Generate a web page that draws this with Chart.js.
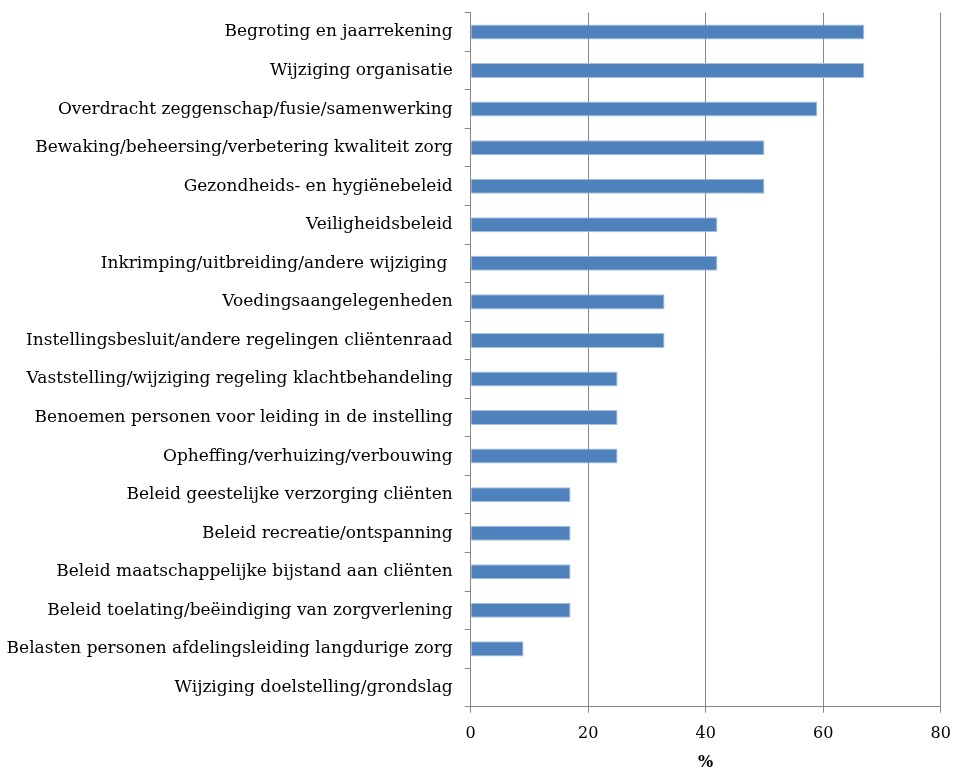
<!DOCTYPE html>
<html>
<head>
<meta charset="utf-8">
<script src="https://cdn.jsdelivr.net/npm/chart.js@4"></script>
<style>
  html, body { margin: 0; padding: 0; background: #fff; }
  #wrap { width: 953px; height: 769px; position: relative; }
</style>
</head>
<body>
<div id="wrap"><canvas id="chart"></canvas></div>
<script>
const categories = [
  'Begroting en jaarrekening',
  'Wijziging organisatie',
  'Overdracht zeggenschap/fusie/samenwerking',
  'Bewaking/beheersing/verbetering kwaliteit zorg',
  'Gezondheids- en hygiënebeleid',
  'Veiligheidsbeleid',
  'Inkrimping/uitbreiding/andere wijziging ',
  'Voedingsaangelegenheden',
  'Instellingsbesluit/andere regelingen cliëntenraad',
  'Vaststelling/wijziging regeling klachtbehandeling',
  'Benoemen personen voor leiding in de instelling',
  'Opheffing/verhuizing/verbouwing',
  'Beleid geestelijke verzorging cliënten',
  'Beleid recreatie/ontspanning',
  'Beleid maatschappelijke bijstand aan cliënten',
  'Beleid toelating/beëindiging van zorgverlening',
  'Belasten personen afdelingsleiding langdurige zorg',
  'Wijziging doelstelling/grondslag'
];
const percentages = [67, 67, 59, 50, 50, 42, 42, 33, 33, 25, 25, 25, 17, 17, 17, 17, 9, 0];
const xTicks = [0, 20, 40, 60, 80];
const axisTitle = '%';

const fontFamily = '"DejaVu Serif", serif';
const gridGray = '#868686';

new Chart(document.getElementById('chart'), {
  type: 'bar',
  data: {
    labels: categories,
    datasets: [{
      data: percentages,
      backgroundColor: '#4F81BD',
      borderColor: '#A7C0E0',
      borderWidth: 1,
      borderSkipped: 'start',
      barPercentage: 0.39,
      categoryPercentage: 1
    }]
  },
  options: {
    indexAxis: 'y',
    responsive: true,
    maintainAspectRatio: false,
    animation: false,
    layout: { padding: { top: 12.7, right: 12.3, left: 0, bottom: 0 } },
    plugins: {
      legend: { display: false },
      tooltip: { enabled: false }
    },
    scales: {
      x: {
        min: 0,
        max: 80,
        afterBuildTicks: (scale) => { scale.ticks = xTicks.map(v => ({ value: v })); },
        afterFit: (scale) => {
          scale.height = 62.3;
          scale.paddingLeft = 0;
          scale.paddingRight = 0;
        },
        grid: { color: gridGray, lineWidth: 1, drawTicks: true, tickLength: 6, tickColor: gridGray },
        border: { color: gridGray, width: 1 },
        ticks: { color: '#000', font: { family: fontFamily, size: 16 }, padding: 12 },
        title: { display: true, text: axisTitle, color: '#000', font: { family: fontFamily, size: 16, weight: 'bold' }, padding: { top: 6, bottom: -3 } }
      },
      y: {
        afterFit: (scale) => {
          scale.width = 470.7;
          scale.paddingTop = 0;
          scale.paddingBottom = 0;
        },
        grid: { display: true, drawOnChartArea: false, drawTicks: true, tickLength: 6, tickColor: gridGray, offset: true },
        border: { color: gridGray, width: 1 },
        ticks: { color: '#000', font: { family: fontFamily, size: 17 }, padding: 12, autoSkip: false }
      }
    }
  }
});
</script>
</body>
</html>
